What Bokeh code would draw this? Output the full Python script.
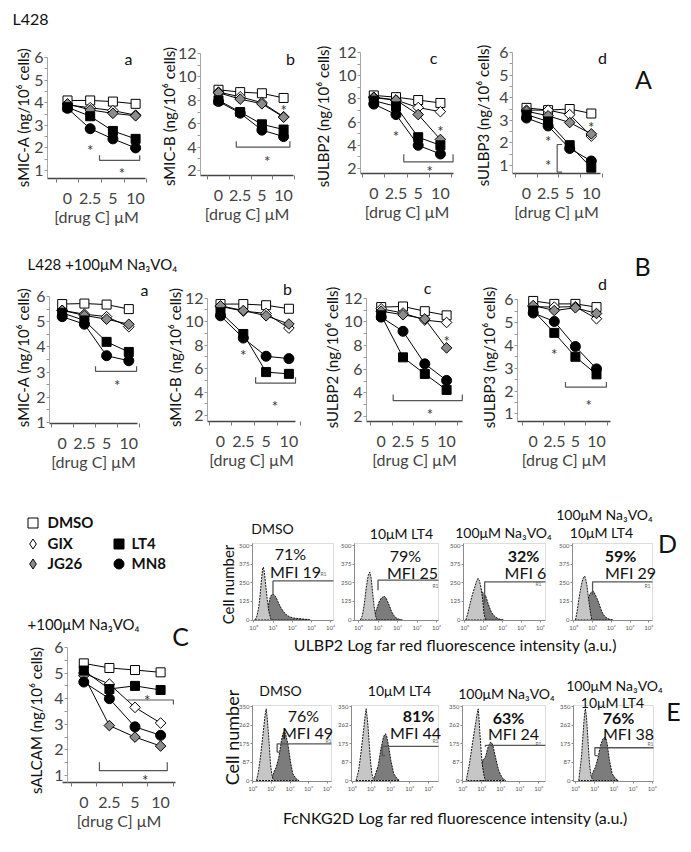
import math
from bokeh.plotting import figure
from bokeh.layouts import row, column
from bokeh.models import FixedTicker, Label, Legend, LegendItem, Range1d, BoxAnnotation
from bokeh.embed import file_html
from bokeh.resources import INLINE
from bokeh.core.properties import value

FONT = "Lato"

# ---------------- data ----------------
conc_labels = ["0", "2.5", "5", "10"]
conc_pos = [0, 1, 2, 3]
treatments = ["DMSO", "GIX", "JG26", "LT4", "MN8"]

# Panel A (L428), ng/10^6 cells
sMICA_A = {"DMSO": [4.1, 4.1, 4.05, 3.95], "GIX": [3.9, 3.78, 3.65, 3.45],
           "JG26": [3.95, 3.68, 3.53, 3.42], "LT4": [3.8, 3.4, 2.75, 2.4],
           "MN8": [3.75, 2.85, 2.4, 2.0]}
sMICB_A = {"DMSO": [8.9, 8.7, 8.6, 8.2], "GIX": [8.7, 8.3, 7.8, 6.6],
           "JG26": [8.65, 8.1, 7.7, 6.55], "LT4": [8.0, 7.0, 5.95, 5.5],
           "MN8": [7.9, 6.9, 5.45, 4.9]}
sULBP2_A = {"DMSO": [8.3, 8.15, 7.9, 7.65], "GIX": [8.15, 7.9, 7.25, 6.9],
            "JG26": [8.1, 7.9, 6.65, 4.5], "LT4": [7.85, 7.35, 4.7, 4.0],
            "MN8": [7.55, 6.65, 4.0, 3.25]}
sULBP3_A = {"DMSO": [3.55, 3.45, 3.5, 3.3], "GIX": [3.45, 3.45, 3.25, 2.3],
            "JG26": [3.4, 3.2, 2.9, 2.4], "LT4": [3.25, 2.95, 1.9, 0.9],
            "MN8": [3.1, 2.75, 1.75, 1.2]}
# Panel B (L428 + 100uM Na3VO4)
sMICA_B = {"DMSO": [5.7, 5.72, 5.68, 5.5], "GIX": [5.45, 5.3, 5.2, 4.8],
           "JG26": [5.45, 5.25, 5.1, 4.9], "LT4": [5.35, 5.05, 4.2, 3.8],
           "MN8": [5.2, 4.9, 3.65, 3.45]}
sMICB_B = {"DMSO": [11.5, 11.5, 11.4, 11.1], "GIX": [11.3, 10.9, 10.7, 9.45],
           "JG26": [11.35, 10.95, 10.5, 9.8], "LT4": [10.8, 8.95, 5.7, 5.55],
           "MN8": [10.5, 8.6, 7.05, 6.85]}
sULBP2_B = {"DMSO": [11.25, 11.3, 10.9, 10.55], "GIX": [11.1, 10.75, 10.15, 9.95],
            "JG26": [10.9, 10.6, 10.25, 7.8], "LT4": [10.55, 7.0, 5.6, 4.25],
            "MN8": [10.4, 9.2, 6.45, 5.05]}
sULBP3_B = {"DMSO": [5.95, 5.82, 5.82, 5.68], "GIX": [5.7, 5.68, 5.7, 5.17],
            "JG26": [5.75, 5.53, 5.65, 5.4], "LT4": [5.53, 4.55, 3.5, 2.73],
            "MN8": [5.42, 5.05, 3.95, 2.97]}
# Panel C (+100uM Na3VO4)
sALCAM_C = {"DMSO": [5.38, 5.2, 5.12, 5.03], "GIX": [5.0, 4.57, 3.66, 3.05],
            "JG26": [4.9, 2.95, 2.5, 2.15], "LT4": [5.1, 4.38, 4.5, 4.34],
            "MN8": [4.65, 4.0, 2.9, 2.57]}

# significance marks: stars (x, y); brackets (x0, x1, y_line, y_end)
stars_Aa = [(1, 2.1), (2.4, 1.07)]
brk_Aa = [(1.41, 3.18, 1.45, 1.68)]
stars_Ab = [(3, 7.5), (2.24, 3.14)]
brk_Ab = [(0.82, 3.29, 4.0, 4.51)]
stars_Ac = [(1, 5.14), (3, 5.57), (2.52, 2.14)]
brk_Ac = [(1.35, 3.57, 2.57, 3.23)]
stars_Ad = [(3, 2.87), (1, 2.25), (1, 1.22)]
vbrk_Ad = (1.42, 0.71, 1.93, 0.23)
stars_Ba = [(2.48, 2.66)]
brk_Ba = [(1.5, 3.35, 3.03, 3.23)]
stars_Bb = [(1, 7.54), (2.39, 3.14)]
brk_Bb = [(1.54, 3.29, 4.76, 5.27)]
stars_Bc = [(3, 8.7), (2.23, 2.56)]
brk_Bc = [(0.55, 3.72, 3.35, 3.86)]
stars_Bd = [(1, 3.78), (2.63, 1.58)]
brk_Bd = [(1.53, 3.47, 2.17, 2.39)]
stars_C = [(2.48, 4.12), (2.4, 1.0)]
brk_C = [(0.61, 3.26, 1.19, 1.52)]
hbrk_C = (1.7, 3.5, 3.95, 3.77)

# Flow cytometry histograms: x = log10 intensity, y = cell counts
# D: ULBP2
d1_iso_x = [0.05, 0.15, 0.25, 0.32, 0.40, 0.46, 0.50, 0.55, 0.63, 0.70, 0.78, 0.88, 0.95]
d1_iso_y = [0, 20, 80, 155, 270, 345, 355, 320, 222, 140, 60, 10, 0]
d1_pos_x = [0.65, 0.75, 0.85, 0.92, 0.98, 1.05, 1.12, 1.2, 1.3, 1.42, 1.55, 1.7, 1.85, 2.05, 2.3, 2.6, 2.8, 2.95]
d1_pos_y = [0, 89, 150, 168, 173, 170, 160, 140, 110, 80, 55, 35, 22, 14, 10, 6, 3, 0]
d2_iso_x = [0.1, 0.2, 0.3, 0.4, 0.5, 0.58, 0.65, 0.72, 0.8, 0.88, 0.95]
d2_iso_y = [0, 30, 110, 220, 300, 322, 280, 190, 90, 25, 0]
d2_pos_x = [0.75, 0.85, 0.95, 1.05, 1.15, 1.25, 1.32, 1.4, 1.5, 1.6, 1.7, 1.82, 1.95, 2.1, 2.25]
d2_pos_y = [0, 45, 80, 120, 145, 155, 160, 150, 122, 90, 55, 30, 12, 4, 0]
d3_iso_x = [0.05, 0.15, 0.28, 0.4, 0.53, 0.62, 0.7, 0.78, 0.88, 0.95, 1.02, 1.1]
d3_iso_y = [0, 40, 110, 170, 222, 260, 280, 262, 200, 130, 40, 0]
d3_pos_x = [0.55, 0.65, 0.74, 0.82, 0.91, 1.0, 1.09, 1.16, 1.23, 1.32, 1.4, 1.5, 1.61, 1.75, 1.88, 2.05]
d3_pos_y = [0, 150, 222, 210, 190, 178, 167, 140, 111, 80, 55, 35, 22, 10, 4, 0]
d4_iso_x = [0.09, 0.18, 0.26, 0.35, 0.44, 0.52, 0.58, 0.64, 0.7, 0.76, 0.82, 0.9, 0.96]
d4_iso_y = [0, 60, 133, 200, 256, 285, 295, 270, 233, 170, 111, 40, 0]
d4_pos_x = [0.6, 0.7, 0.79, 0.88, 0.96, 1.03, 1.1, 1.18, 1.28, 1.37, 1.46, 1.56, 1.67, 1.8, 1.93, 2.1]
d4_pos_y = [0, 120, 155, 180, 189, 195, 182, 160, 133, 100, 67, 40, 22, 10, 4, 0]
# E: FcNKG2D
e1_iso_x = [0.2, 0.3, 0.41, 0.5, 0.59, 0.66, 0.72, 0.77, 0.83, 0.9, 0.95, 1.02, 1.08, 1.18]
e1_iso_y = [0, 40, 110, 180, 252, 310, 339, 300, 237, 150, 79, 30, 8, 0]
e1_pos_x = [1.0, 1.13, 1.26, 1.4, 1.54, 1.62, 1.67, 1.72, 1.76, 1.83, 1.9, 2.03, 2.15, 2.33, 2.48]
e1_pos_y = [0, 39, 63, 110, 189, 222, 229, 228, 221, 195, 166, 87, 32, 8, 0]
e2_iso_x = [0.2, 0.32, 0.43, 0.52, 0.61, 0.68, 0.73, 0.78, 0.83, 0.9, 0.96, 1.03, 1.1, 1.18]
e2_iso_y = [0, 40, 110, 180, 252, 310, 339, 300, 252, 160, 87, 30, 8, 0]
e2_pos_x = [1.1, 1.22, 1.36, 1.5, 1.63, 1.7, 1.74, 1.8, 1.88, 2.02, 2.17, 2.35, 2.47]
e2_pos_y = [0, 32, 71, 150, 205, 218, 221, 210, 173, 95, 32, 8, 0]
e3_iso_x = [0.18, 0.35, 0.53, 0.62, 0.7, 0.76, 0.81, 0.85, 0.89, 0.95, 1.02, 1.1, 1.16, 1.23]
e3_iso_y = [0, 79, 189, 240, 284, 320, 339, 300, 237, 160, 79, 30, 8, 0]
e3_pos_x = [0.95, 1.05, 1.19, 1.33, 1.4, 1.46, 1.52, 1.58, 1.65, 1.72, 1.8, 1.89, 2.07, 2.25]
e3_pos_y = [0, 95, 110, 158, 172, 181, 178, 166, 140, 110, 80, 47, 13, 0]
e4_iso_x = [0.17, 0.31, 0.43, 0.48, 0.52, 0.57, 0.61, 0.67, 0.73, 0.8, 0.87, 0.96]
e4_iso_y = [0, 110, 268, 320, 339, 300, 252, 160, 79, 25, 8, 0]
e4_pos_x = [0.8, 0.87, 1.04, 1.18, 1.3, 1.43, 1.53, 1.58, 1.65, 1.77, 1.91, 2.09, 2.23]
e4_pos_y = [0, 32, 63, 110, 166, 197, 205, 200, 173, 95, 32, 8, 0]

# gates (x, low, high) and percent / MFI labels
gates_D = [(1.0, 167, 262), (1.0, 200, 267), (1.05, 111, 256), (1.0, 167, 256)]
gates_E = [(1.31, 134, 173), (1.57, 118, 161), (1.19, 160, 166), (1.01, 118, 155)]
pct_D = ["71%", "79%", "32%", "59%"]
mfi_D = ["MFI 19", "MFI 25", "MFI 6", "MFI 29"]
pct_E = ["76%", "81%", "63%", "76%"]
mfi_E = ["MFI 49", "MFI 44", "MFI 24", "MFI 38"]
hist_xticks = [0, 1, 2, 3, 4]
hist_xlabels = ["10\u2070", "10\u00b9", "10\u00b2", "10\u00b3", "10\u2074"]
yticks_D = [0, 125, 250, 375, 500]
ylabels_D = ["0", "125", "250", "375", "500"]
yticks_E = [0, 87.5, 175, 262.5, 350]
ylabels_E = ["0", "87", "175", "262", "350"]

# ---------------- styles ----------------
MARK = {
    "DMSO": dict(marker="square", size=9, angle=0.0, fill="white"),
    "GIX": dict(marker="square", size=7.5, angle=0.785398, fill="white"),
    "JG26": dict(marker="square", size=7.5, angle=0.785398, fill="#8c8c8c"),
    "LT4": dict(marker="square", size=9, angle=0.0, fill="black"),
    "MN8": dict(marker="circle", size=10, angle=0.0, fill="black"),
}
LIGHT = "#c6c6c6"
DARK = "#7c7c7c"
UNIT = "(ng/10\u2076 cells)"
NAV = "Na\u2083VO\u2084"


def lin(pa, va, pb, vb):
    k = (vb - va) / (pb - pa)
    return lambda q: va + (q - pa) * k


def frame_fig(box, fx, fy):
    x0, x1, y0, y1 = box
    p = figure(width=int(round(x1 - x0)), height=int(round(y1 - y0)), title=None,
               x_range=Range1d(fx(x0), fx(x1)), y_range=Range1d(fy(y1), fy(y0)),
               toolbar_location=None, output_backend="svg", min_border=0)
    p.outline_line_color = None
    p.grid.visible = False
    p.background_fill_color = "white"
    p.border_fill_color = "white"
    return p


def add_label(p, x, y, text, size="16px", align="center", bold=False, color="#111111",
              angle=0.0):
    p.add_layout(Label(x=x, y=y, text=text, text_font=FONT, text_font_size=size,
                       text_align=align, text_baseline="middle", text_color=color,
                       text_font_style="bold" if bold else "normal", angle=angle))


def text_fig(w, h, items):
    p = figure(width=w, height=h, title=None, x_range=Range1d(0, w), y_range=Range1d(0, h),
               toolbar_location=None, output_backend="svg", x_axis_type=None,
               y_axis_type=None, min_border=0)
    p.outline_line_color = None
    for (x, y_from_top, text, size, align) in items:
        add_label(p, x, h - y_from_top, text, size=size, align=align)
    return p


def line_panel(vals, box, x0px, dx, ya, yb, yax, xay, xstart, xend, yticks, ylabel, ylab_xy,
               stars, brackets, texts):
    fx = lin(x0px, 0, x0px + dx, 1)
    fy = lin(ya[0], ya[1], yb[0], yb[1])
    p = frame_fig(box, fx, fy)

    xa = p.xaxis[0]
    xa.fixed_location = fy(xay)
    xa.bounds = (fx(xstart), fx(xend))
    xa.ticker = FixedTicker(ticks=conc_pos, minor_ticks=[-0.5, 0.5, 1.5, 2.5, 3.5])
    xa.major_label_overrides = {k: s for k, s in zip(conc_pos, conc_labels)}
    xa.axis_label = "[drug C] \u03bcM"
    xa.axis_label_text_font = FONT
    xa.axis_label_text_font_size = "16px"
    xa.axis_label_text_font_style = "normal"
    xa.axis_label_standoff = 0
    xa.major_label_text_font = FONT
    xa.major_label_text_font_size = "16px"
    xa.major_label_standoff = 10
    xa.major_tick_out = 0
    xa.major_tick_in = 0
    xa.minor_tick_out = 4
    xa.minor_tick_in = 0
    xa.minor_tick_line_color = "#777777"
    xa.axis_line_color = "#444444"
    xa.axis_line_width = 1.5

    step = yticks[1] - yticks[0]
    yv = p.yaxis[0]
    yv.fixed_location = fx(yax)
    yv.bounds = (fy(xay), yticks[-1])
    yv.ticker = FixedTicker(ticks=yticks, minor_ticks=[t + step / 2 for t in yticks[:-1]])
    yv.major_label_text_font = FONT
    yv.major_label_text_font_size = "16px"
    yv.major_label_standoff = 1
    yv.major_tick_out = 3
    yv.major_tick_in = 0
    yv.minor_tick_out = 3
    yv.minor_tick_in = 0
    yv.major_tick_line_color = "#999999"
    yv.minor_tick_line_color = "#999999"
    yv.axis_line_color = "#a8a8a8"
    add_label(p, fx(ylab_xy[0]), fy(ylab_xy[1]), ylabel, size="15px", angle=math.pi / 2)

    for t in treatments:
        p.line(conc_pos, vals[t], line_color="black", line_width=1)
    # diamond keys (hidden beneath the plotted diamonds) used for legend glyphs
    keys = {}
    for t in ("GIX", "JG26"):
        keys[t] = p.scatter(conc_pos, vals[t], marker="diamond", size=4,
                            fill_color=MARK[t]["fill"], line_color="black", line_width=1,
                            level="underlay")
    rends = {}
    for t in treatments:
        st = MARK[t]
        rends[t] = p.scatter(conc_pos, vals[t], marker=st["marker"], size=st["size"],
                             angle=st["angle"], fill_color=st["fill"], line_color="black",
                             line_width=1)
    for t in ("DMSO", "LT4", "MN8"):
        keys[t] = rends[t]
    for (bx0, bx1, yl, ye) in brackets:
        p.line([bx0, bx0, bx1, bx1], [ye, yl, yl, ye], line_color="#555555", line_width=1.2)
    if stars:
        p.text(x=[s[0] for s in stars], y=[s[1] for s in stars], text=["*"] * len(stars),
               text_font=value(FONT), text_font_size="15px", text_align="center",
               text_baseline="middle", text_color="#333333", y_offset=4)
    for (px, py, text, size, align) in texts:
        add_label(p, fx(px), fy(py), text, size=size, align=align)
    return p, keys


def hist_panel(box, frame, p0, dec, py0, pytop, ytop, iso_x, iso_y, pos_x, pos_y,
               yticks, ylabs, gate, arm, texts, ylabel=None):
    fx = lin(p0, 0, p0 + dec, 1)
    fy = lin(py0, 0, pytop, ytop)
    p = frame_fig(box, fx, fy)
    bx0, bx1, by0, by1 = frame
    p.patch(pos_x, pos_y, fill_color=DARK, line_color="black", line_width=0.9, line_dash="2 1")
    p.patch(iso_x, iso_y, fill_color=LIGHT, line_color="black", line_width=0.9, line_dash="2 1")
    gx, glo, ghi = gate
    p.line([gx, gx, fx(bx1)], [glo, ghi, ghi], line_color="#555555", line_width=1.3)
    if arm:
        p.line([gx, gx + arm], [glo, glo], line_color="#555555", line_width=1.3)
    p.add_layout(BoxAnnotation(left=fx(bx0), right=fx(bx1), bottom=fy(by1), top=fy(by0),
                               fill_alpha=0, line_color="#8a8a8a", line_width=1))
    xa = p.xaxis[0]
    xa.fixed_location = fy(by1)
    xa.bounds = (fx(bx0), fx(bx1))
    xa.ticker = FixedTicker(ticks=hist_xticks)
    xa.major_label_overrides = {k: s for k, s in zip(hist_xticks, hist_xlabels)}
    yv = p.yaxis[0]
    yv.fixed_location = fx(bx0)
    yv.bounds = (fy(by1), fy(by0))
    yv.ticker = FixedTicker(ticks=yticks)
    yv.major_label_overrides = {k: s for k, s in zip(yticks, ylabs)}
    for ax in (xa, yv):
        ax.major_label_text_font = FONT
        ax.major_label_text_font_size = "6px"
        ax.major_label_text_color = "#555555"
        ax.major_label_standoff = 1
        ax.major_tick_out = 2
        ax.major_tick_in = 0
        ax.minor_tick_out = 0
        ax.minor_tick_in = 0
        ax.axis_line_color = "#8a8a8a"
        ax.major_tick_line_color = "#8a8a8a"
    if ylabel:
        lx, ly, lsize = ylabel
        add_label(p, fx(lx), fy(ly), "Cell number", size=lsize, angle=math.pi / 2)
    for (px, py, text, size, bold, color) in texts:
        add_label(p, fx(px), fy(py), text, size=size, bold=bold, color=color)
    return p


# ---------------- row A ----------------
Aa, _ = line_panel(sMICA_A, (0, 155, 0, 232), 67, 22.7, (57, 6), (170, 1), 47, 178, 47, 145,
                   [1, 2, 3, 4, 5, 6], "sMIC-A " + UNIT, (22, 117), stars_Aa, brk_Aa,
                   [(12, 18, "L428", "16px", "left"), (128, 58, "a", "16px", "center")])
Ab, _ = line_panel(sMICB_A, (155, 305, 0, 232), 218, 21.7, (53, 12), (170, 2), 200, 175, 200,
                   293, [2, 4, 6, 8, 10, 12], "sMIC-B " + UNIT, (168, 116), stars_Ab, brk_Ab,
                   [(290, 58, "b", "16px", "center")])
Ac, _ = line_panel(sULBP2_A, (305, 460, 0, 232), 373.3, 22.2, (52, 12), (168, 2), 360, 173,
                   360, 453, [2, 4, 6, 8, 10, 12], "sULBP2 " + UNIT, (322, 116), stars_Ac,
                   brk_Ac, [(433, 57, "c", "16px", "center")])
Ad, _ = line_panel(sULBP3_A, (460, 691, 0, 232), 526, 21.6, (52, 6), (165, 1), 512, 173,
                   512, 600, [1, 2, 3, 4, 5, 6], "sULBP3 " + UNIT, (482, 115), stars_Ad, [],
                   [(602, 57, "d", "16px", "center"), (643, 78, "A", "25px", "center")])
bx, by0, by1, barm = vbrk_Ad
Ad.line([bx + barm, bx, bx, bx + barm], [by0, by0, by1, by1], line_color="#555555",
        line_width=1.2)

# ---------------- row B ----------------
headB = text_fig(470, 40, [(27, 31, "L428  +100\u03bcM  " + NAV, "15px", "left")])
Ba, _ = line_panel(sMICA_B, (0, 160, 272, 472), 61.7, 22.2, (296, 6), (422, 1), 49, 423, 49,
                   137, [1, 2, 3, 4, 5, 6], "sMIC-A " + UNIT, (22, 357), stars_Ba, brk_Ba,
                   [(144, 289, "a", "16px", "center")])
Bb, _ = line_panel(sMICB_B, (160, 312, 272, 472), 220, 22.8, (297.7, 12), (415, 2), 207, 421,
                   207, 295, [2, 4, 6, 8, 10, 12], "sMIC-B " + UNIT, (174, 357), stars_Bb,
                   brk_Bb, [(287, 288, "b", "16px", "center")])
Bc, _ = line_panel(sULBP2_B, (312, 470, 272, 472), 380.7, 21.8, (297.7, 12), (416, 2), 366,
                   421, 366, 462, [2, 4, 6, 8, 10, 12], "sULBP2 " + UNIT, (331, 357), stars_Bc,
                   brk_Bc, [(427, 287, "c", "16px", "center")])
Bd, _ = line_panel(sULBP3_B, (470, 691, 232, 472), 532.7, 21.1, (299.3, 6), (413.3, 1), 517,
                   421, 517, 610, [1, 2, 3, 4, 5, 6], "sULBP3 " + UNIT, (488, 357), stars_Bd,
                   brk_Bd, [(602, 283, "d", "16px", "center"), (642, 265, "B", "25px", "center")])

# ---------------- panel C + legend ----------------
C_box = (0, 215, 472, 850)
Cp, ckeys = line_panel(sALCAM_C, C_box, 83.3, 25.6, (647, 6), (775, 1), 67, 782, 62, 175,
                       [1, 2, 3, 4, 5, 6], "sALCAM " + UNIT, (35, 720), stars_C, brk_C,
                       [(27, 623, "+100\u03bcM  " + NAV, "15px", "left"),
                        (180, 635, "C", "25px", "center")])
hx0, hx1, hy, hye = hbrk_C
Cp.line([hx0, hx1, hx1], [hy, hy, hye], line_color="#555555", line_width=1.2)

# legend entries: glyph box left edge (px), centre y (px), label standoff
legend_px = {"DMSO": (19.5, 522, 3), "GIX": (19.5, 543, 3), "JG26": (19.5, 563, 3),
             "LT4": (105.5, 543, 1), "MN8": (105.5, 563, 1)}
for t in treatments:
    lx, cy, so = legend_px[t]
    lg = Legend(items=[LegendItem(label=t, renderers=[ckeys[t]])],
                location=(lx - C_box[0], C_box[3] - (cy + 12.5)),
                glyph_width=25, glyph_height=25, label_height=25, label_standoff=so,
                padding=0, margin=0, spacing=0, border_line_color=None,
                background_fill_alpha=0, label_text_font=FONT, label_text_font_size="15px",
                label_text_font_style="bold", label_text_color="#111111")
    Cp.add_layout(lg, "center")

# ---------------- D row ----------------
def dtexts(pct, mfi, bold, pxy, mxy, rxy, titles):
    out = [(pxy[0], pxy[1], pct, "16px", bold, "#111111"),
           (mxy[0], mxy[1], mfi, "16px", False, "#111111"),
           (rxy[0], rxy[1], "R1", "5px", False, "#666666")]
    for (tx, ty, tt, sz) in titles:
        out.append((tx, ty, tt, sz, False, "#111111"))
    return out


D1 = hist_panel((215, 337, 472, 632), (252, 333, 543, 620), 253.3, 19.2, 619.5, 545, 500,
                d1_iso_x, d1_iso_y, d1_pos_x, d1_pos_y, yticks_D, ylabels_D, gates_D[0], 0,
                dtexts(pct_D[0], mfi_D[0], False, (290, 553), (295, 571), (323, 573),
                       [(272, 528, "DMSO", "14px")]), ylabel=(227, 584, "15px"))
D2 = hist_panel((337, 441, 472, 632), (354, 438, 543, 620), 358, 19.5, 619.5, 545, 500,
                d2_iso_x, d2_iso_y, d2_pos_x, d2_pos_y, yticks_D, ylabels_D, gates_D[1], 0,
                dtexts(pct_D[1], mfi_D[1], False, (405, 555), (412, 572), (435, 585),
                       [(401, 533, "10\u03bcM LT4", "14px")]))
D3 = hist_panel((441, 553, 472, 632), (463, 545, 543, 620), 464.3, 18.9, 619.5, 545, 500,
                d3_iso_x, d3_iso_y, d3_pos_x, d3_pos_y, yticks_D, ylabels_D, gates_D[2], 0,
                dtexts(pct_D[2], mfi_D[2], True, (523, 555), (525, 572), (538, 583),
                       [(503, 532, "100\u03bcM " + NAV, "14px")]))
D4 = hist_panel((553, 691, 472, 632), (572, 652, 543, 620), 573.3, 18.75, 619.5, 545, 500,
                d4_iso_x, d4_iso_y, d4_pos_x, d4_pos_y, yticks_D, ylabels_D, gates_D[3], 0,
                dtexts(pct_D[3], mfi_D[3], True, (620, 555), (630, 572), (647, 585),
                       [(604, 514, "100\u03bcM " + NAV, "14px"), (601, 532, "10\u03bcM LT4", "14px"),
                        (667, 542, "D", "25px")]))
xlabD = text_fig(476, 24, [(240, 12, "ULBP2 Log far red fluorescence intensity (a.u.)", "16px",
                            "center")])

# ---------------- E row ----------------
E1 = hist_panel((215, 337, 656, 794), (252, 331, 705, 781), 252.3, 18.6, 780, 706, 350,
                e1_iso_x, e1_iso_y, e1_pos_x, e1_pos_y, yticks_E, ylabels_E, gates_E[0], 0.15,
                dtexts(pct_E[0], mfi_E[0], False, (303, 715), (307, 732), (328, 740),
                       [(280, 690, "DMSO", "14px")]), ylabel=(231, 737, "18px"))
E2 = hist_panel((337, 441, 656, 794), (351, 438, 705, 781), 351.7, 19.15, 780, 706, 350,
                e2_iso_x, e2_iso_y, e2_pos_x, e2_pos_y, yticks_E, ylabels_E, gates_E[1], 0.15,
                dtexts(pct_E[1], mfi_E[1], True, (418, 715), (415, 732), (435, 740),
                       [(399, 690, "10\u03bcM LT4", "14px")]))
E3 = hist_panel((441, 555, 656, 794), (462, 545, 705, 781), 462.3, 19.0, 780, 706, 350,
                e3_iso_x, e3_iso_y, e3_pos_x, e3_pos_y, yticks_E, ylabels_E, gates_E[2], 0,
                dtexts(pct_E[2], mfi_E[2], True, (508, 717), (513, 733), (538, 743),
                       [(506, 693, "100\u03bcM " + NAV, "14px")]))
E4 = hist_panel((555, 691, 656, 794), (573, 653, 705, 781), 575, 19.2, 780, 706, 350,
                e4_iso_x, e4_iso_y, e4_pos_x, e4_pos_y, yticks_E, ylabels_E, gates_E[3], 0.15,
                dtexts(pct_E[3], mfi_E[3], True, (618, 717), (628, 733), (650, 743),
                       [(614, 685, "100\u03bcM " + NAV, "14px"), (612, 702, "10\u03bcM LT4", "14px"),
                        (673, 710, "E", "25px")]))
xlabE = text_fig(476, 56, [(240, 23, "FcNKG2D Log far red fluorescence intensity (a.u.)",
                            "16px", "center")])

layout = column(
    row(Aa, Ab, Ac, Ad),
    row(column(headB, row(Ba, Bb, Bc)), Bd),
    row(Cp, column(row(D1, D2, D3, D4), xlabD, row(E1, E2, E3, E4), xlabE)),
)

open("out.html", "w").write(file_html(layout, INLINE))
